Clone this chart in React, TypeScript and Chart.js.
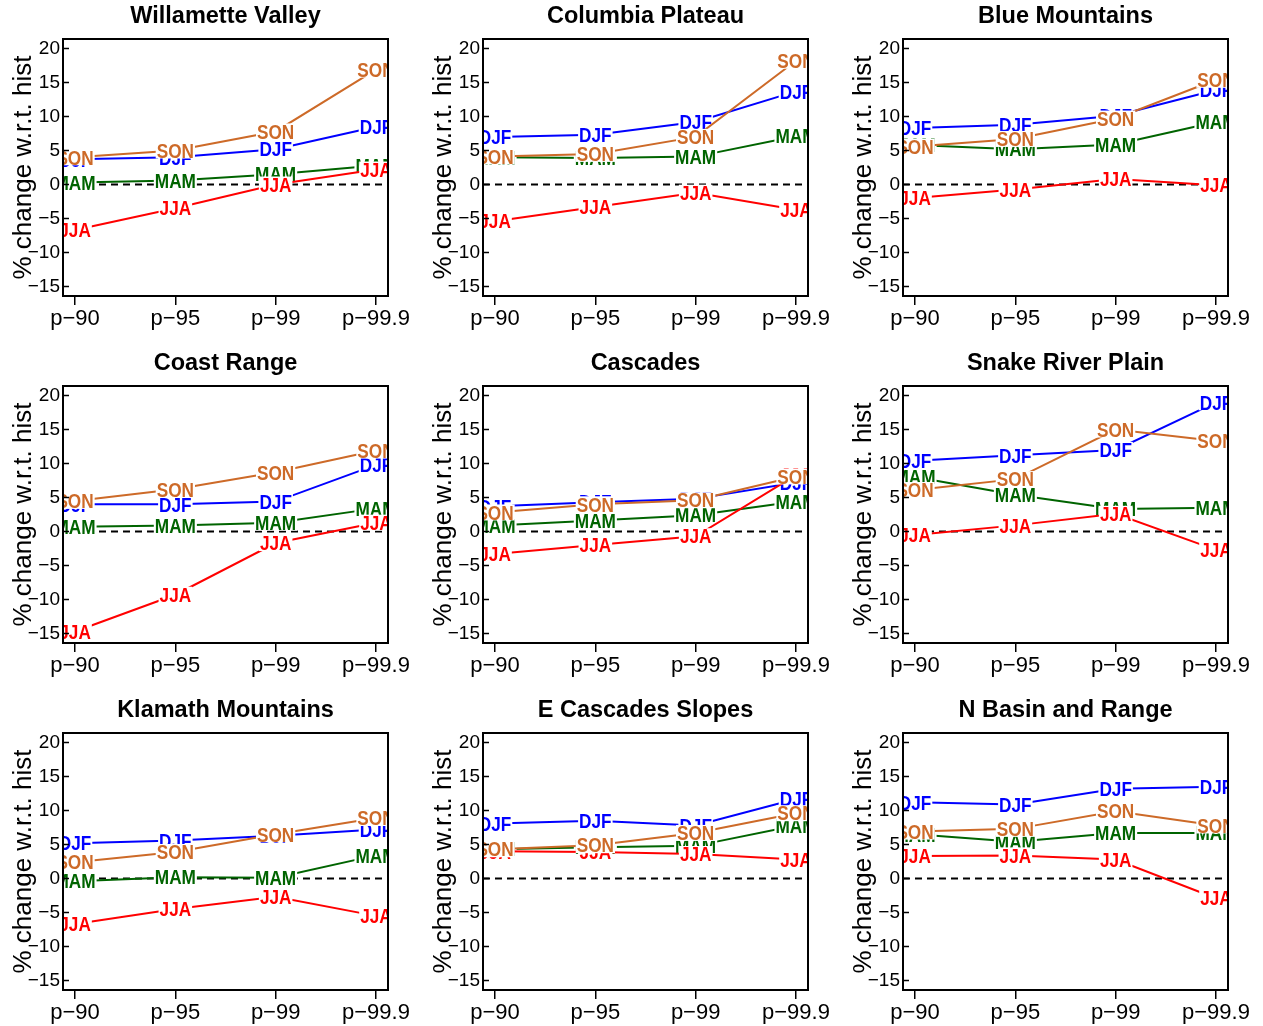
import React, { useEffect, useRef } from "react";
import { Chart, registerables } from "chart.js";

Chart.register(...registerables);

const FONT = "'Liberation Sans', Arial, Helvetica, sans-serif";
Chart.defaults.font.family = FONT;

const categories = ["p−90", "p−95", "p−99", "p−99.9"];
const seasons = ["DJF", "MAM", "JJA", "SON"];
const seasonColors = ["#0000FF", "#006400", "#FF0000", "#CD6A28"];
const yTicks = [-15, -10, -5, 0, 5, 10, 15, 20];
const yAxisTitle = "% change w.r.t. hist";

// rows: DJF, MAM, JJA, SON
const willametteValley = [
  [3.7, 4.0, 5.2, 8.5],
  [0.3, 0.6, 1.5, 2.8],
  [-6.7, -3.5, 0.0, 2.2],
  [4.0, 5.0, 7.8, 16.9],
];
const columbiaPlateau = [
  [7.0, 7.3, 9.2, 13.7],
  [4.0, 3.9, 4.1, 7.1],
  [-5.4, -3.3, -1.2, -3.7],
  [4.1, 4.5, 7.0, 18.2],
];
const blueMountains = [
  [8.3, 8.8, 10.1, 13.9],
  [5.8, 5.2, 5.9, 9.2],
  [-2.0, -0.75, 0.8, -0.1],
  [5.6, 6.7, 9.7, 15.4],
];
const coastRange = [
  [4.0, 4.0, 4.4, 9.8],
  [0.7, 0.9, 1.3, 3.4],
  [-14.7, -9.3, -1.7, 1.3],
  [4.5, 6.2, 8.7, 11.9],
];
const cascades = [
  [3.7, 4.3, 4.8, 7.2],
  [0.9, 1.6, 2.4, 4.4],
  [-3.3, -2.0, -0.7, 8.3],
  [2.8, 4.0, 4.6, 8.1],
];
const snakeRiverPlain = [
  [10.4, 11.2, 12.0, 19.0],
  [8.0, 5.4, 3.3, 3.5],
  [-0.5, 0.9, 2.6, -2.7],
  [6.1, 7.7, 15.0, 13.3],
];
const klamathMountains = [
  [5.2, 5.6, 6.3, 7.2],
  [-0.4, 0.2, 0.1, 3.4],
  [-6.7, -4.5, -2.7, -5.5],
  [2.4, 3.9, 6.5, 8.9],
];
const eCascadesSlopes = [
  [8.1, 8.5, 7.8, 11.7],
  [4.3, 4.6, 4.8, 7.8],
  [4.0, 3.9, 3.6, 2.8],
  [4.3, 4.9, 6.7, 9.6],
];
const nBasinAndRange = [
  [11.2, 10.9, 13.2, 13.5],
  [6.5, 5.4, 6.7, 6.7],
  [3.3, 3.4, 2.8, -2.9],
  [6.9, 7.3, 9.9, 7.8],
];

const regionTitles = [
  "Willamette Valley",
  "Columbia Plateau",
  "Blue Mountains",
  "Coast Range",
  "Cascades",
  "Snake River Plain",
  "Klamath Mountains",
  "E Cascades Slopes",
  "N Basin and Range",
];
const regionValues = [
  willametteValley,
  columbiaPlateau,
  blueMountains,
  coastRange,
  cascades,
  snakeRiverPlain,
  klamathMountains,
  eCascadesSlopes,
  nBasinAndRange,
];

const PANEL_W = 420;
const PANEL_H = 347;
const LABEL_SIZE = 20;
const LABEL_XSCALE = 0.86;

const panelPlugin = {
  id: "panel",
  beforeDatasetsDraw(chart: any) {
    const { ctx, chartArea } = chart;
    const y0 = chart.scales.y.getPixelForValue(0);
    ctx.save();
    ctx.strokeStyle = "#000";
    ctx.lineWidth = 2;
    ctx.setLineDash([7, 5]);
    ctx.beginPath();
    ctx.moveTo(chartArea.left, y0);
    ctx.lineTo(chartArea.right, y0);
    ctx.stroke();
    ctx.restore();
  },
  afterDatasetDraw(chart: any, args: any) {
    const { ctx, chartArea } = chart;
    const ds = chart.data.datasets[args.index];
    const label = ds.label;
    ctx.save();
    ctx.beginPath();
    ctx.rect(chartArea.left, chartArea.top, chartArea.right - chartArea.left, chartArea.bottom - chartArea.top);
    ctx.clip();
    ctx.font = `bold ${LABEL_SIZE}px ${FONT}`;
    const w = ctx.measureText(label).width * LABEL_XSCALE;
    const cap = LABEL_SIZE * 0.72;
    for (const pt of args.meta.data) {
      const x = pt.x;
      const y = pt.y;
      ctx.fillStyle = "#FFFFFF";
      ctx.fillRect(x - w / 2 - 1, y - cap / 2 - 0.8, w + 2, cap + 1.6);
      ctx.save();
      ctx.translate(x, y + cap / 2);
      ctx.scale(LABEL_XSCALE, 1);
      ctx.fillStyle = ds.borderColor;
      ctx.textAlign = "center";
      ctx.textBaseline = "alphabetic";
      ctx.fillText(label, 0, 0);
      ctx.restore();
    }
    ctx.restore();
  },
  afterDraw(chart: any, _args: any, opts: any) {
    const { ctx, chartArea } = chart;
    ctx.save();
    ctx.strokeStyle = "#000";
    ctx.lineWidth = 2;
    ctx.strokeRect(chartArea.left, chartArea.top, chartArea.right - chartArea.left, chartArea.bottom - chartArea.top);
    ctx.lineWidth = 1.5;
    ctx.beginPath();
    for (const v of yTicks) {
      const py = chart.scales.y.getPixelForValue(v);
      ctx.moveTo(chartArea.left, py);
      ctx.lineTo(chartArea.left + 6, py);
    }
    ctx.stroke();
    ctx.fillStyle = "#000";
    ctx.font = `bold 23.5px ${FONT}`;
    ctx.textAlign = "center";
    ctx.textBaseline = "middle";
    ctx.fillText(opts.title, (chartArea.left + chartArea.right) / 2, 17);
    ctx.restore();
  },
};

function Panel({ title, values, left, top }: { title: string; values: number[][]; left: number; top: number }) {
  const ref = useRef<HTMLCanvasElement | null>(null);
  useEffect(() => {
    if (!ref.current) return;
    const chart = new Chart(ref.current, {
      type: "line",
      data: {
        datasets: seasons.map((s, k) => ({
          label: s,
          data: values[k].map((v, i) => ({ x: i + 1, y: v })),
          borderColor: seasonColors[k],
          backgroundColor: seasonColors[k],
          borderWidth: 2,
          pointRadius: 0,
          pointHoverRadius: 0,
          fill: false,
          tension: 0,
          order: seasons.length - k,
        })),
      },
      options: {
        animation: false,
        responsive: false,
        events: [],
        layout: { padding: { top: 39, right: 32, left: 0, bottom: 0 } },
        plugins: {
          legend: { display: false },
          tooltip: { enabled: false },
          title: { display: false },
          panel: { title },
        } as any,
        scales: {
          x: {
            type: "linear",
            min: 0.88,
            max: 4.12,
            afterBuildTicks: (s: any) => {
              s.ticks = categories.map((_, i) => ({ value: i + 1 }));
            },
            afterFit: (s: any) => {
              s.height = 51;
            },
            grid: {
              drawOnChartArea: false,
              drawTicks: true,
              tickLength: 9,
              color: "#000",
              lineWidth: 1.5,
            },
            border: { display: false },
            ticks: {
              callback: (_v: any, i: number) => categories[i],
              font: { size: 22 },
              color: "#000",
              padding: 1,
              maxRotation: 0,
              autoSkip: false,
            },
          },
          y: {
            type: "linear",
            min: -16.4,
            max: 21.4,
            afterBuildTicks: (s: any) => {
              s.ticks = yTicks.map((v) => ({ value: v }));
            },
            afterFit: (s: any) => {
              s.width = 63;
            },
            grid: { display: false, drawTicks: false },
            border: { display: false },
            ticks: {
              callback: (v: any) => (v < 0 ? "−" + Math.abs(v) : String(v)),
              font: { size: 19 },
              color: "#000",
              padding: 3,
              autoSkip: false,
            },
            title: {
              display: true,
              text: yAxisTitle,
              font: { size: 26 },
              color: "#000",
              padding: { top: 8, bottom: 0 },
            },
          },
        },
      } as any,
      plugins: [panelPlugin as any],
    });
    return () => chart.destroy();
  }, [title, values]);
  return (
    <canvas
      ref={ref}
      width={PANEL_W}
      height={PANEL_H}
      style={{ position: "absolute", left, top, width: PANEL_W, height: PANEL_H, display: "block" }}
    />
  );
}

export default function App() {
  return (
    <div
      style={{
        position: "absolute",
        left: 0,
        top: 0,
        width: 1263,
        height: 1026,
        overflow: "hidden",
        background: "#fff",
      }}
    >
      {regionTitles.map((t, i) => (
        <Panel
          key={t}
          title={t}
          values={regionValues[i]}
          left={(i % 3) * PANEL_W}
          top={Math.floor(i / 3) * PANEL_H}
        />
      ))}
    </div>
  );
}
